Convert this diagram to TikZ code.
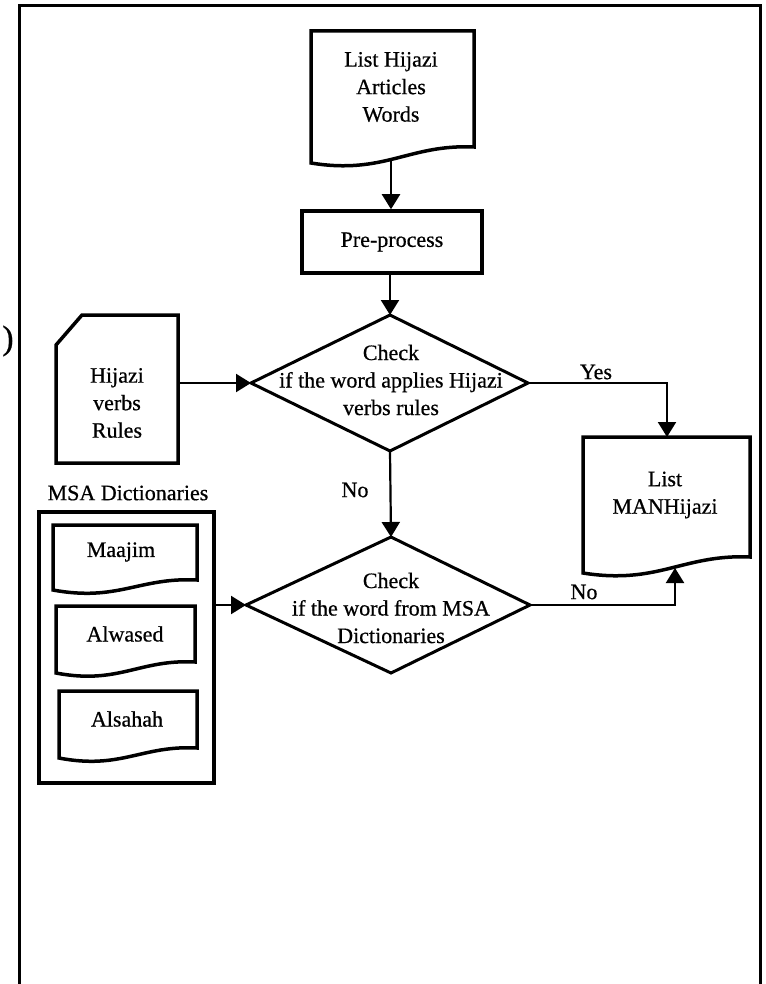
\documentclass[tikz,border=0pt]{standalone}
\usepackage{fontspec}
\setmainfont[FakeBold=0.6]{Liberation Serif}
\usetikzlibrary{arrows.meta,calc}
% document shape: L T R B D  (wavy bottom, right end at B, left end at B+D)
\newcommand{\docpath}[5]{%
  \draw[boxline] (#1,#2) -- (#3,#2) -- (#3,#4)
    .. controls ({#3-0.4*(#3-#1)},{#4-3}) and ({#1+0.45*(#3-#1)},{#4+#5+12}) .. (#1,{#4+#5}) -- cycle;}
\begin{document}
\begin{tikzpicture}[x=1pt,y=-1pt,
  font=\fontsize{22}{27.5}\selectfont,
  boxline/.style={line width=3.5pt, line join=miter},
  dline/.style={line width=3pt, line join=miter},
  conn/.style={line width=2.2pt, -{Triangle[length=15pt,width=18pt]}},
  lbl/.style={align=center, inner sep=0pt},
  framel/.style={line width=3pt}]
\useasboundingbox[fill=white] (0,0) rectangle (765,984);
% outer frame (open at the bottom)
\draw[framel] (19,984) -- (19,6) -- (760,6) -- (760,984);
\node[lbl, font=\fontsize{34}{34}\selectfont] (paren) at (8,341) {)};

% List Hijazi Articles Words
\docpath{311}{31}{474}{147}{16}
\node[lbl] (docA) at (391,87) {List Hijazi\\Articles\\Words};
\coordinate (docAbot) at (391,159);

% Pre-process
\node[draw, boxline, minimum width=180pt, minimum height=62pt, inner sep=0pt] (pre) at (392,242) {Pre-process};

% Diamond 1
\coordinate (d1n) at (390,315);
\coordinate (d1e) at (528,383);
\coordinate (d1s) at (390,451);
\coordinate (d1w) at (251,383);
\draw[dline] (d1n) -- (d1e) -- (d1s) -- (d1w) -- cycle;
\node[lbl] (d1) at (391,380) {Check\\if the word applies Hijazi\\verbs rules};

% Hijazi verbs Rules (card)
\node[minimum width=122pt, minimum height=148pt, inner sep=0pt] (cardbox) at (117,389) {};
\draw[boxline] (56,345) -- (82,315) -- (178,315) -- (178,463) -- (56,463) -- cycle;
\node[lbl] (card) at (117,403) {Hijazi\\verbs\\Rules};

% Diamond 2
\coordinate (d2n) at (391,537);
\coordinate (d2e) at (530,605);
\coordinate (d2s) at (391,673);
\coordinate (d2w) at (246,605);
\draw[dline] (d2n) -- (d2e) -- (d2s) -- (d2w) -- cycle;
\node[lbl] (d2) at (391,608) {Check\\if the word from MSA\\Dictionaries};

% MSA Dictionaries container
\node[lbl] (msalbl) at (128,493) {MSA Dictionaries};
\node[draw, boxline, minimum width=175pt, minimum height=271pt, inner sep=0pt] (msa) at (126.5,647.5) {};
\docpath{53}{525}{197}{580}{10}
\node[lbl] (maajim) at (121,552) {Maajim};
\docpath{56}{606}{195}{662}{11}
\node[lbl] (alwased) at (125,634) {Alwased};
\docpath{59}{691}{197}{748}{10}
\node[lbl] (alsahah) at (127,719) {Alsahah};

% List MANHijazi
\docpath{583}{437}{750}{557}{16}
\node[lbl] (man) at (665,495) {List\\MANHijazi};
\coordinate (mantop) at (667,437);
\coordinate (manbot) at (675,568);

% connectors
\draw[conn] (docAbot) -- (pre.north -| docAbot);
\draw[conn] (pre.south -| d1n) -- (d1n);
\draw[conn] (cardbox.east |- d1w) -- (d1w);
\draw[conn] (d1s) -- (d2n);
\draw[conn] (msa.east |- d2w) -- (d2w);
\draw[conn] (d1e) -| (mantop);
\draw[conn] (d2e) -| (manbot);

% labels
\node[lbl] (yes) at (596,372) {Yes};
\node[lbl] (no1) at (355,490) {No};
\node[lbl] (no2) at (584,592) {No};
\end{tikzpicture}
\end{document}
